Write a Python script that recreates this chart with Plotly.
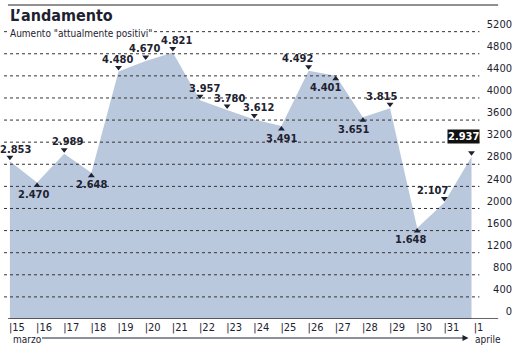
import plotly.graph_objects as go

days = ["15", "16", "17", "18", "19", "20", "21", "22", "23", "24", "25",
        "26", "27", "28", "29", "30", "31", "1"]
values = [2853, 2470, 2989, 2648, 4480, 4670, 4821, 3957, 3780, 3612, 3491,
          4492, 4401, 3651, 3815, 1648, 2107, 2937]
value_labels = ["2.853", "2.470", "2.989", "2.648", "4.480", "4.670", "4.821",
                "3.957", "3.780", "3.612", "3.491", "4.492", "4.401", "3.651",
                "3.815", "1.648", "2.107", "2.937"]
y_ticks = [0, 400, 800, 1200, 1600, 2000, 2400, 2800, 3200, 3600, 4000, 4400, 4800, 5200]

side = [1, -1, 1, -1, 1, 1, 1, 1, 1, 1, -1, 1, -1, -1, 1, -1, 1, 1]
label_dx = [6, -4, 3, 0, -1, -1, 4, 5, 2, 4, 0, -11, -10, -9, -9, -7, -12, -8]

W, H = 515, 351
ML, MR, MT, MB = 4, 0, 30, 32
plot_right = 483
YMAX = 5230
PH = H - MT - MB
PW = W - ML - MR
px_per_unit = PH / YMAX

FONT = "Liberation Sans Narrow, DejaVu Sans Condensed, Roboto, sans-serif"
TXT = "#1e2230"
FILL = "#bac8de"

xs = list(range(len(days)))

fig = go.Figure()
fig.add_trace(go.Scatter(
    x=xs, y=values, mode="lines", fill="tozeroy",
    line=dict(width=0, color=FILL), fillcolor=FILL, hoverinfo="skip",
    showlegend=False))

mk_y = [v + s * (4 if s > 0 else 3) / px_per_unit for v, s in zip(values, side)]
mk_sym = ["triangle-down" if s > 0 else "triangle-up" for s in side]
fig.add_trace(go.Scatter(
    x=xs, y=mk_y, mode="markers",
    marker=dict(symbol=mk_sym, size=6, color=TXT, line=dict(width=0)),
    showlegend=False, hoverinfo="skip"))


def px_x(p):
    return (p - ML) / PW


def px_y(p):
    return (H - MB - p) / PH


annotations = []
for i, (v, lab, s, dx) in enumerate(zip(values, value_labels, side, label_dx)):
    last = i == len(values) - 1
    annotations.append(dict(
        x=xs[i], y=v, xref="x", yref="y", text=f"<b>{lab}</b>", showarrow=False,
        xshift=dx, yshift=(20 if last else (12 if s > 0 else -12)),
        font=dict(family=FONT, size=11, color="white" if last else TXT),
        bgcolor="#111111" if last else None, borderpad=0))

annotations.append(dict(x=px_x(8), y=px_y(16), xref="paper", yref="paper",
                        text="<b>L’andamento</b>", showarrow=False,
                        xanchor="left", yanchor="middle",
                        font=dict(family=FONT, size=16, color=TXT)))
annotations.append(dict(text="Aumento \"attualmente positivi\"", showarrow=False,
                        xref="paper", yref="paper", x=px_x(8), y=px_y(33),
                        xanchor="left", yanchor="middle", bgcolor="white",
                        font=dict(family=FONT, size=10, color=TXT)))
annotations.append(dict(text="marzo", x=xs[0], y=px_y(339), xref="x", yref="paper",
                        showarrow=False, xanchor="left", yanchor="middle",
                        xshift=1, font=dict(family=FONT, size=10, color=TXT)))
annotations.append(dict(text="aprile", x=xs[-1], y=px_y(339), xref="x", yref="paper",
                        showarrow=False, xanchor="left", yanchor="middle",
                        xshift=1, font=dict(family=FONT, size=10, color=TXT)))
annotations.append(dict(text="", x=xs[-1], y=px_y(338), xref="x", yref="paper",
                        ax=-428, ay=0, axref="pixel", ayref="pixel", xshift=-3,
                        showarrow=True, arrowhead=2, arrowsize=1.2, arrowwidth=1,
                        arrowcolor=TXT))

shapes = [
    dict(type="line", xref="paper", yref="paper", x0=px_x(8), x1=px_x(505),
         y0=px_y(5), y1=px_y(5), line=dict(color="#222222", width=1)),
    dict(type="line", xref="paper", yref="y", x0=px_x(8), x1=px_x(505),
         y0=0, y1=0, line=dict(color="#333333", width=1.5)),
]
# dotted gridlines drawn above the filled area
for t in y_ticks[1:]:
    shapes.append(dict(type="line", xref="paper", yref="y", x0=0, x1=px_x(486),
                       y0=t, y1=t, layer="above",
                       line=dict(color="#333333", width=1, dash="dot")))

fig.update_layout(
    width=W, height=H, margin=dict(l=ML, r=MR, t=MT, b=MB),
    paper_bgcolor="white", plot_bgcolor="white",
    xaxis=dict(domain=[0, px_x(plot_right)], range=[-6 / 27.53, 17 + 5 / 27.53],
               tickvals=xs, ticktext=["|" + d for d in days], ticks="",
               ticklabelshift=7, showgrid=False, zeroline=False,
               showline=False, tickfont=dict(family=FONT, size=11, color=TXT)),
    yaxis=dict(range=[0, YMAX], tickvals=y_ticks, ticktext=[str(t) for t in y_ticks],
               anchor="free", position=1, side="left", showgrid=False,
               zeroline=False, showline=False, ticks="",
               ticklabelposition="outside top", ticklabelstandoff=-4,
               tickfont=dict(family=FONT, size=11, color=TXT)),
    annotations=annotations, shapes=shapes,
)
fig.write_html("out.html")
